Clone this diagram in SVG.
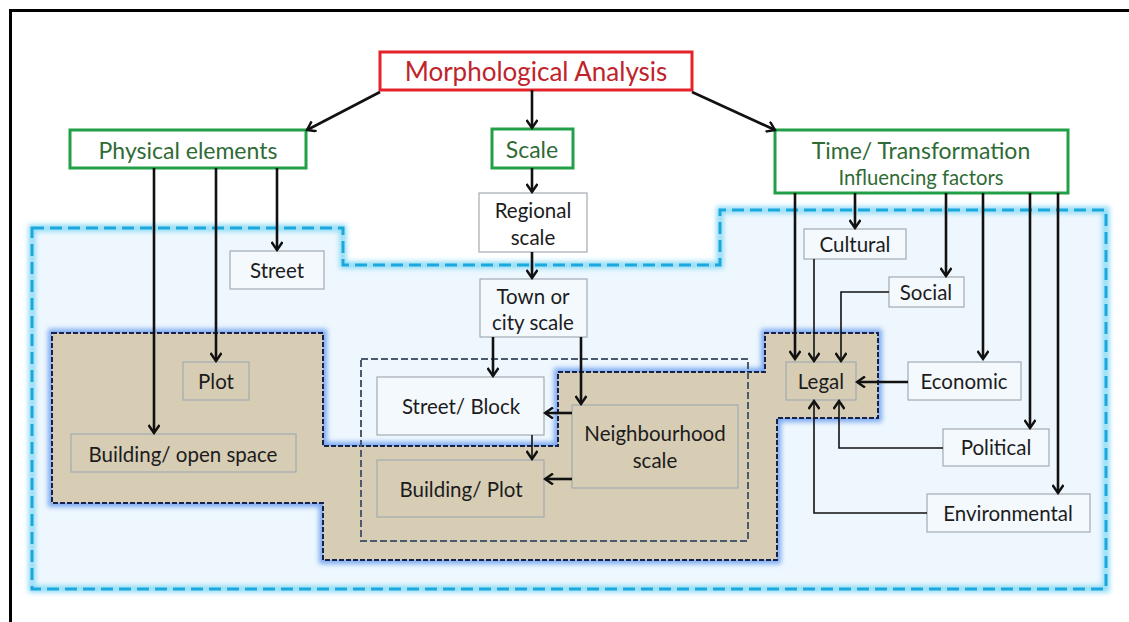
<svg xmlns="http://www.w3.org/2000/svg" width="1129" height="622" viewBox="0 0 1129 622">
  <defs>
    <style>
      text { font-family: Lato, "Open Sans", "Liberation Sans", sans-serif; text-anchor: middle; dominant-baseline: central; fill: #1c1c1c; }
      .title { font-size: 26px; fill: #c0242b; }
      .head { font-size: 23px; fill: #2f6b35; }
      .sub { font-size: 20.3px; fill: #2f6b35; }
      .lbl { font-size: 20.5px; }
      .box { stroke: #a3abb3; stroke-width: 1.2; }
      .wht { fill: #ffffff; }
      .pale { fill: #f4f9fe; }
      .tan { fill: #d7cdb4; }
      .green { fill: #ffffff; stroke: #21a048; stroke-width: 3; }
      .red { fill: #ffffff; stroke: #e3222a; stroke-width: 3; }
      .arr { fill: none; stroke: #111; stroke-width: 2.6; marker-end: url(#head); }
      .thin { fill: none; stroke: #111; stroke-width: 1.6; marker-end: url(#head); }
    </style>
    <marker id="head" viewBox="0 0 12 12" refX="10" refY="6" markerWidth="12" markerHeight="12" markerUnits="userSpaceOnUse" orient="auto">
      <path d="M2,0.5 L10,6 L2,11.5" fill="none" stroke="#111" stroke-width="2.4"/>
    </marker>
    <filter id="glow" x="-10%" y="-10%" width="120%" height="120%">
      <feGaussianBlur stdDeviation="2.5"/>
    </filter>
  </defs>

  <rect x="0" y="0" width="1129" height="622" fill="#ffffff"/>
  <!-- page frame, running off the right and bottom edges -->
  <rect x="10.5" y="10.5" width="1200" height="700" fill="none" stroke="#000" stroke-width="3"/>

  <!-- outer zone: influencing area -->
  <g id="zone-outer">
    <path d="M32,228 H343 V265 H720 V210 H1106 V589 H32 Z" fill="#eef7fd"/>
    <path d="M32,228 H343 V265 H720 V210 H1106 V589 H32 Z" fill="none" stroke="#8fdcf6" stroke-width="7" filter="url(#glow)"/>
    <path d="M32,228 H343 V265 H720 V210 H1106 V589 H32 Z" fill="none" stroke="#1aa8dd" stroke-width="3" stroke-dasharray="12,6"/>
  </g>

  <!-- inner zone: built fabric -->
  <g id="zone-inner">
    <path d="M52,333 H323 V446 H558 V372 H765 V333 H878 V418 H777 V560 H323 V503 H52 Z" fill="none" stroke="#7aa8f2" stroke-width="8" filter="url(#glow)"/>
    <path d="M52,333 H323 V446 H558 V372 H765 V333 H878 V418 H777 V560 H323 V503 H52 Z" fill="#d7cdb4"/>
    <path d="M52,333 H323 V446 H558 V372 H765 V333 H878 V418 H777 V560 H323 V503 H52 Z" fill="none" stroke="#17224a" stroke-width="2" stroke-dasharray="5,2"/>
  </g>

  <!-- local scale group -->
  <g id="zone-local">
    <rect x="361" y="359" width="387" height="182" fill="none" stroke="#4c5a6e" stroke-width="2" stroke-dasharray="7,3"/>
  </g>

  <g id="morphological-analysis">
    <rect class="red" x="380" y="52" width="312" height="38"/>
    <text class="title" x="536" y="71">Morphological Analysis</text>
  </g>
  <g id="physical-elements">
    <rect class="green" x="70" y="130" width="236" height="38"/>
    <text class="head" x="188" y="150">Physical elements</text>
  </g>
  <g id="scale">
    <rect class="green" x="492" y="129" width="81" height="39"/>
    <text class="head" x="532" y="149">Scale</text>
  </g>
  <g id="time-transformation">
    <rect class="green" x="775" y="130" width="293" height="63"/>
    <text class="head" x="921" y="150">Time/ Transformation</text>
    <text class="sub" x="921" y="177">Influencing factors</text>
  </g>

  <g id="street">
    <rect class="box pale" x="230" y="251" width="94" height="38"/>
    <text class="lbl" x="277" y="270">Street</text>
  </g>
  <g id="plot">
    <rect class="box tan" x="183" y="362" width="66" height="38"/>
    <text class="lbl" x="216" y="381">Plot</text>
  </g>
  <g id="building-open-space">
    <rect class="box tan" x="71" y="434" width="225" height="38"/>
    <text class="lbl" x="183" y="454">Building/ open space</text>
  </g>

  <g id="regional-scale">
    <rect class="box wht" x="479" y="193" width="108" height="59"/>
    <text class="lbl" x="533" y="210">Regional</text>
    <text class="lbl" x="533" y="237">scale</text>
  </g>
  <g id="town-city-scale">
    <rect class="box pale" x="480" y="279" width="107" height="58"/>
    <text class="lbl" x="533" y="296">Town or</text>
    <text class="lbl" x="533" y="322">city scale</text>
  </g>
  <g id="street-block">
    <rect class="box pale" x="377" y="377" width="167" height="58"/>
    <text class="lbl" x="461" y="406">Street/ Block</text>
  </g>
  <g id="building-plot">
    <rect class="box tan" x="377" y="460" width="167" height="57"/>
    <text class="lbl" x="461" y="489">Building/ Plot</text>
  </g>
  <g id="neighbourhood-scale">
    <rect class="box tan" x="572" y="405" width="166" height="83"/>
    <text class="lbl" x="655" y="433">Neighbourhood</text>
    <text class="lbl" x="655" y="460">scale</text>
  </g>

  <g id="cultural">
    <rect class="box pale" x="804" y="229" width="102" height="30"/>
    <text class="lbl" x="855" y="244">Cultural</text>
  </g>
  <g id="social">
    <rect class="box pale" x="889" y="277" width="75" height="30"/>
    <text class="lbl" x="926" y="292">Social</text>
  </g>
  <g id="legal">
    <rect class="box tan" x="786" y="362" width="70" height="38"/>
    <text class="lbl" x="821" y="381">Legal</text>
  </g>
  <g id="economic">
    <rect class="box pale" x="908" y="362" width="113" height="38"/>
    <text class="lbl" x="964" y="381">Economic</text>
  </g>
  <g id="political">
    <rect class="box pale" x="943" y="429" width="106" height="37"/>
    <text class="lbl" x="996" y="447">Political</text>
  </g>
  <g id="environmental">
    <rect class="box pale" x="927" y="494" width="163" height="38"/>
    <text class="lbl" x="1008" y="513">Environmental</text>
  </g>

  <g id="connectors">
    <!-- from the analysis root -->
    <line class="arr" x1="380" y1="92" x2="307" y2="130"/>
    <line class="arr" x1="532" y1="90" x2="532" y2="128"/>
    <line class="arr" x1="692" y1="92" x2="775" y2="130"/>
    <!-- physical elements -->
    <line class="arr" x1="154" y1="168" x2="154" y2="433"/>
    <line class="arr" x1="216" y1="168" x2="216" y2="361"/>
    <line class="arr" x1="277" y1="168" x2="277" y2="250"/>
    <!-- scale chain -->
    <line class="arr" x1="532" y1="168" x2="532" y2="192"/>
    <line class="arr" x1="532" y1="252" x2="532" y2="278"/>
    <line class="arr" x1="493" y1="337" x2="493" y2="376"/>
    <line class="arr" x1="581" y1="337" x2="581" y2="404"/>
    <line class="arr" x1="572" y1="413" x2="545" y2="413"/>
    <line class="arr" x1="572" y1="479" x2="545" y2="479"/>
    <line class="thin" x1="532" y1="435" x2="532" y2="459"/>
    <!-- influencing factors -->
    <line class="arr" x1="795" y1="193" x2="795" y2="359"/>
    <line class="arr" x1="855" y1="193" x2="855" y2="228"/>
    <line class="arr" x1="946" y1="193" x2="946" y2="276"/>
    <line class="arr" x1="983" y1="193" x2="983" y2="359"/>
    <line class="arr" x1="1030" y1="193" x2="1030" y2="428"/>
    <line class="arr" x1="1058" y1="193" x2="1058" y2="493"/>
    <!-- factors feeding the legal frame -->
    <polyline class="thin" points="814,259 814,361"/>
    <polyline class="thin" points="889,292 841,292 841,361"/>
    <line class="arr" x1="908" y1="382" x2="857" y2="382"/>
    <polyline class="thin" points="943,448 839,448 839,401"/>
    <polyline class="thin" points="927,513 814,513 814,401"/>
  </g>
</svg>
